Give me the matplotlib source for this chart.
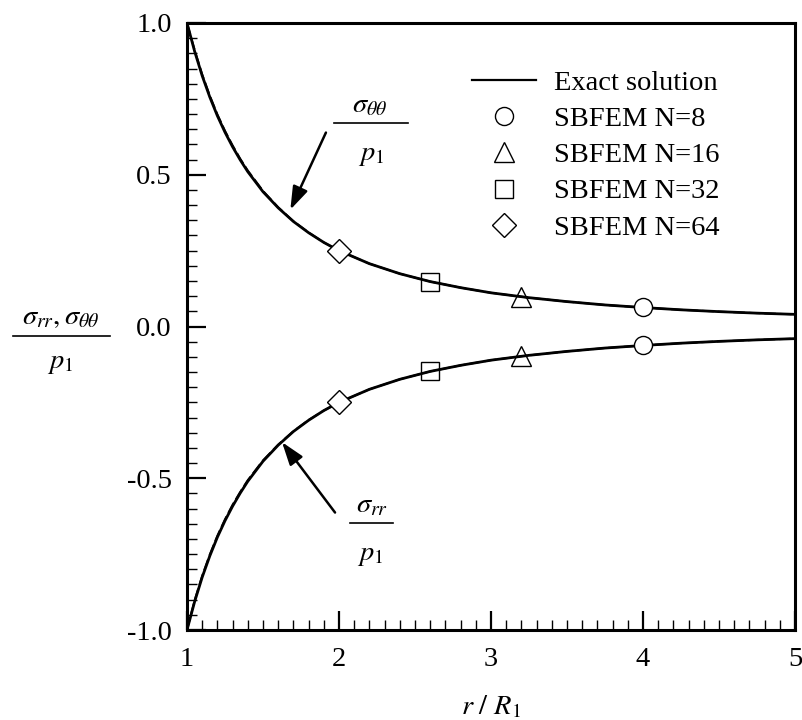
import matplotlib
matplotlib.use('Agg')
import matplotlib.pyplot as plt
from matplotlib.lines import Line2D
from matplotlib.ticker import MultipleLocator, FormatStrFormatter

plt.rcParams['font.family'] = ['Liberation Serif', 'DejaVu Serif']
plt.rcParams['mathtext.fontset'] = 'stix'
plt.rcParams['axes.unicode_minus'] = False

# ---- data ----
r_exact = [1.0, 1.05, 1.1, 1.15, 1.2, 1.25, 1.3, 1.35, 1.4, 1.5, 1.6, 1.7, 1.8, 1.9, 2.0,
           2.2, 2.4, 2.6, 2.8, 3.0, 3.25, 3.5, 3.75, 4.0, 4.25, 4.5, 4.75, 5.0]
s_theta_exact = [1.0, 0.907, 0.826, 0.756, 0.694, 0.640, 0.592, 0.549, 0.510, 0.444, 0.391,
                 0.346, 0.309, 0.277, 0.250, 0.207, 0.174, 0.148, 0.128, 0.111, 0.095,
                 0.082, 0.071, 0.0625, 0.055, 0.049, 0.044, 0.040]
s_rr_exact = [-1.0, -0.907, -0.826, -0.756, -0.694, -0.640, -0.592, -0.549, -0.510, -0.444,
              -0.391, -0.346, -0.309, -0.277, -0.250, -0.207, -0.174, -0.148, -0.128, -0.111,
              -0.095, -0.082, -0.071, -0.0625, -0.055, -0.049, -0.044, -0.040]

# numerical (dashed) curve, nearly on top of the exact one
r_num = [1.0, 1.05, 1.1, 1.15, 1.2, 1.25, 1.3, 1.35, 1.4, 1.5, 1.6, 1.7, 1.8, 1.9, 2.0,
         2.2, 2.4, 2.6, 2.8, 3.0, 3.25, 3.5, 3.75, 4.0, 4.25, 4.5, 4.75, 5.0]
s_theta_num = [1.0, 0.912, 0.831, 0.761, 0.699, 0.645, 0.597, 0.553, 0.514, 0.447, 0.393,
               0.347, 0.310, 0.277, 0.250, 0.207, 0.174, 0.148, 0.128, 0.111, 0.095,
               0.082, 0.071, 0.0625, 0.055, 0.049, 0.044, 0.040]
s_rr_num = [-1.0, -0.902, -0.821, -0.751, -0.689, -0.635, -0.587, -0.545, -0.506, -0.441,
            -0.389, -0.345, -0.308, -0.277, -0.250, -0.207, -0.174, -0.148, -0.128, -0.111,
            -0.095, -0.082, -0.071, -0.0625, -0.055, -0.049, -0.044, -0.040]

series_labels = ['SBFEM N=8', 'SBFEM N=16', 'SBFEM N=32', 'SBFEM N=64']
series_r = [4.0, 3.2, 2.6, 2.0]
series_theta = [0.063, 0.098, 0.147, 0.250]
series_rr = [-0.062, -0.097, -0.148, -0.250]
series_markers = ['o', '^', 's', 'D']
series_ms = [13, 14, 13, 12.2]
series_face = ['white', 'none', 'none', 'white']

x_ticks = [1, 2, 3, 4, 5]
y_ticks = [-1.0, -0.5, 0.0, 0.5, 1.0]

W, H = 803, 720
FS = 20.5

fig = plt.figure(figsize=(W / 100, H / 100), dpi=100)
ax = fig.add_axes([187 / W, 1 - 630 / H, (795 - 187) / W, (630 - 23) / H])

ax.plot(r_exact, s_theta_exact, color='k', lw=2.0, zorder=3)
ax.plot(r_exact, s_rr_exact, color='k', lw=2.0, zorder=3)
ax.plot(r_num, s_theta_num, color='k', lw=1.4, ls=(0, (6, 2)), zorder=3)
ax.plot(r_num, s_rr_num, color='k', lw=1.4, ls=(0, (6, 2)), zorder=3)

handles = [Line2D([], [], color='k', lw=1.6)]
for lab, rr, st, srr, mk, ms, fc in zip(series_labels, series_r, series_theta, series_rr,
                                         series_markers, series_ms, series_face):
    ax.plot([rr, rr], [st, srr], ls='none', marker=mk, ms=ms, mfc=fc, mec='k', mew=1.0,
            zorder=5)
    handles.append(Line2D([], [], ls='none', marker=mk, ms=ms, mfc='white', mec='k', mew=1.0))

leg = fig.legend(handles, ['Exact solution'] + series_labels, loc='upper left',
                 bbox_to_anchor=(472 / W, 1 - 70 / H), frameon=False, fontsize=FS,
                 handlelength=2.25, handletextpad=0.62, labelspacing=0.36, borderpad=0,
                 borderaxespad=0)

ax.set_xlim(1, 5)
ax.set_ylim(-1, 1)
ax.set_xticks(x_ticks)
ax.set_yticks(y_ticks)
ax.xaxis.set_minor_locator(MultipleLocator(0.1))
ax.yaxis.set_minor_locator(MultipleLocator(0.05))
ax.yaxis.set_major_formatter(FormatStrFormatter('%.1f'))
ax.tick_params(which='both', direction='in', top=False, right=False, labelsize=FS)
ax.tick_params(which='major', length=14, width=1.6)
ax.tick_params(which='minor', length=7, width=1.0)
ax.tick_params(axis='y', pad=11)
ax.tick_params(axis='x', pad=12)
for sp in ax.spines.values():
    sp.set_linewidth(2.2)

ax.set_xlabel(r'$r\ /\ R_1$', fontsize=FS, labelpad=16)

def fx(x):
    return x / W

def fy(y):
    return 1 - y / H

# y-axis label as a fraction
fig.text(fx(61), fy(318), r'$\sigma_{rr},\sigma_{\theta\theta}$', fontsize=FS,
         ha='center', va='center')
fig.add_artist(Line2D([fx(13), fx(110)], [fy(336), fy(336)], color='k', lw=1.2))
fig.text(fx(60), fy(364), r'$p_1$', fontsize=FS, ha='center', va='center')

# sigma_theta annotation
fig.text(fx(370), fy(106), r'$\sigma_{\theta\theta}$', fontsize=FS, ha='center', va='center')
fig.add_artist(Line2D([fx(334), fx(408)], [fy(123), fy(123)], color='k', lw=1.2))
fig.text(fx(371), fy(156), r'$p_1$', fontsize=FS, ha='center', va='center')
ax.annotate('', xy=(1.68, 0.385), xytext=(1.914, 0.639),
            arrowprops=dict(arrowstyle='-|>,head_length=0.5,head_width=0.17',
                            color='k', lw=1.8, mutation_scale=28, shrinkA=0, shrinkB=0))

# sigma_rr annotation
fig.text(fx(372), fy(506), r'$\sigma_{rr}$', fontsize=FS, ha='center', va='center')
fig.add_artist(Line2D([fx(350), fx(393)], [fy(523), fy(523)], color='k', lw=1.2))
fig.text(fx(370), fy(555), r'$p_1$', fontsize=FS, ha='center', va='center')
ax.annotate('', xy=(1.625, -0.381), xytext=(1.974, -0.613),
            arrowprops=dict(arrowstyle='-|>,head_length=0.5,head_width=0.17',
                            color='k', lw=1.8, mutation_scale=28, shrinkA=0, shrinkB=0))

fig.savefig('out.png', dpi=100)
